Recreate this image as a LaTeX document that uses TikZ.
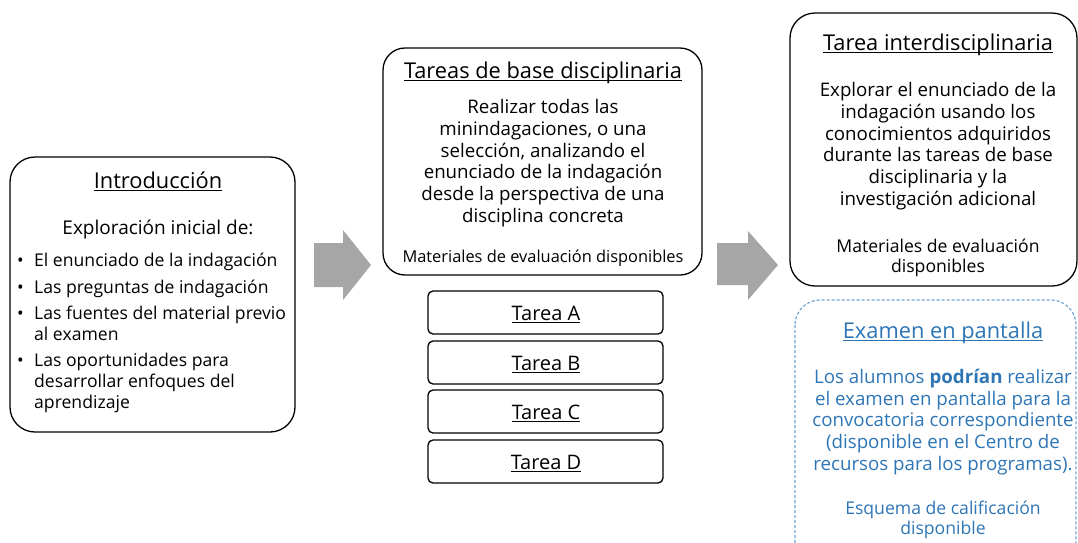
\documentclass[tikz,border=0pt]{standalone}
\usepackage{fontspec}
\setmainfont{Open Sans}
\definecolor{arrowgray}{RGB}{166,166,166}
\definecolor{bluetxt}{RGB}{46,117,182}
\definecolor{bluedash}{RGB}{110,165,215}
\newcommand{\myul}[1]{\setbox0\hbox{#1}\rlap{\rule[-3pt]{\wd0}{1.1pt}}\box0}
\tikzset{
  box/.style={draw=black, line width=1.3pt, rounded corners=#1},
  dashbox/.style={draw=bluedash, line width=1.2pt, dash pattern=on 3pt off 2pt, rounded corners=25pt},
  blockarrow/.style={fill=arrowgray, draw=none},
  title/.style={font=\fontsize{21.8}{24}\selectfont, inner sep=0pt, anchor=base},
  body/.style={font=\fontsize{18.7}{21.7}\selectfont, align=center, inner sep=0pt},
  small/.style={font=\fontsize{16.4}{20}\selectfont, align=center, inner sep=0pt},
  sub/.style={font=\fontsize{17.6}{20.5}\selectfont, align=center, inner sep=0pt},
  line/.style={font=\fontsize{17.6}{21}\selectfont, inner sep=0pt, anchor=base west},
  task/.style={font=\fontsize{20}{21}\selectfont, inner sep=0pt, anchor=base},
}
\begin{document}
\begin{tikzpicture}[x=1pt, y=-1pt]
\useasboundingbox (0,0) rectangle (1078,542);
\clip (0,0) rectangle (1078,542);

% Introduction box
\draw[box=25pt] (10,157) rectangle (295,432);
\node[title] (introT) at (158,188) {\myul{Introducción}};
\node[font=\fontsize{19}{21}\selectfont, inner sep=0pt, anchor=base] (introE) at (158,234) {Exploración inicial de:};
\node[line] (b1) at (17,266) {\textbullet};
\node[line] (l1) at (34,266) {El enunciado de la indagación};
\node[line] (b2) at (17,293) {\textbullet};
\node[line] (l2) at (34,293) {Las preguntas de indagación};
\node[line] (b3) at (17,319) {\textbullet};
\node[line] (l3) at (34,319) {Las fuentes del material previo};
\node[line] (l3b) at (34,340) {al examen};
\node[line] (b4) at (17,366) {\textbullet};
\node[line] (l4) at (34,366) {Las oportunidades para};
\node[line] (l4b) at (34,387) {desarrollar enfoques del};
\node[line] (l4c) at (34,408) {aprendizaje};

% Arrow 1
\fill[blockarrow] (314,243) -- (343,243) -- (343,230) -- (371,265) -- (343,300) -- (343,287) -- (314,287) -- cycle;

% Middle box
\draw[box=22pt] (383,48) rectangle (702,275);
\node[title] (midT) at (543,78) {\myul{Tareas de base disciplinaria}};
\node[body] (midB) at (543,163) {Realizar todas las\\minindagaciones, o una\\selección, analizando el\\enunciado de la indagación\\desde la perspectiva de una\\disciplina concreta};
\node[small, anchor=base] (midM) at (543,262) {Materiales de evaluación disponibles};

% Task boxes
\draw[box=5pt] (428,291) rectangle (663,334);
\node[task] (tA) at (546,320) {\myul{Tarea A}};
\draw[box=5pt] (428,341) rectangle (663,384);
\node[task] (tB) at (546,370) {\myul{Tarea B}};
\draw[box=5pt] (428,390) rectangle (663,433);
\node[task] (tC) at (546,419) {\myul{Tarea C}};
\draw[box=5pt] (428,440) rectangle (663,483);
\node[task] (tD) at (546,469) {\myul{Tarea D}};

% Arrow 2
\fill[blockarrow] (717,243) -- (748,243) -- (748,231) -- (778,265) -- (748,300) -- (748,285) -- (717,285) -- cycle;

% Right box
\draw[box=25pt] (790,13) rectangle (1077,286);
\node[title] (rT) at (938,50) {\myul{Tarea interdisciplinaria}};
\node[body] (rB) at (938,146) {Explorar el enunciado de la\\indagación usando los\\conocimientos adquiridos\\durante las tareas de base\\disciplinaria y la\\investigación adicional};
\node[sub] (rM) at (938,258) {Materiales de evaluación\\disponibles};

% Dashed box
\draw[dashbox] (795,300) rectangle (1076,570);
\node[title, text=bluetxt] (eT) at (943,338) {\myul{Examen en pantalla}};
\node[body, text=bluetxt] (eB) at (943,422) {Los alumnos \textbf{podrían} realizar\\el examen en pantalla para la\\convocatoria correspondiente\\(disponible en el Centro de\\recursos para los programas).};
\node[sub, text=bluetxt] (eM) at (943,520) {Esquema de calificación\\disponible};
\end{tikzpicture}
\end{document}
